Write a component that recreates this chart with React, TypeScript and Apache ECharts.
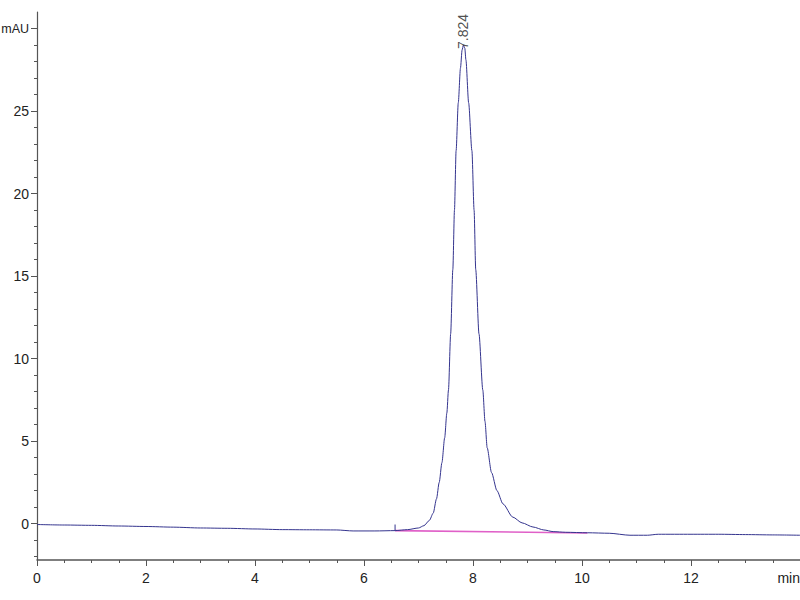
import React, { useEffect, useRef } from "react";
import * as echarts from "echarts";

// Chromatogram trace: retention time (min) and absorbance (mAU)
const traceTime = [
  0.0, 0.5, 1.0, 1.5, 2.0, 2.5, 3.0, 3.5, 4.0, 4.5, 5.0, 5.5, 5.8, 6.2, 6.57,
  6.8, 7.0, 7.1, 7.2, 7.27, 7.33, 7.38, 7.43, 7.48, 7.52, 7.55, 7.59, 7.63,
  7.66, 7.69, 7.73, 7.77, 7.8, 7.824, 7.85, 7.87, 7.92, 7.98, 8.02, 8.05,
  8.11, 8.18, 8.22, 8.26, 8.34, 8.44, 8.55, 8.73, 8.9, 9.1, 9.3, 9.47, 9.7,
  10.1, 10.5, 10.88, 11.2, 11.4, 12.0, 12.5, 13.0, 13.5, 14.0,
];
const traceValue = [
  -0.05, -0.08, -0.1, -0.14, -0.17, -0.21, -0.26, -0.28, -0.32, -0.36, -0.37,
  -0.38, -0.44, -0.44, -0.42, -0.36, -0.26, -0.12, 0.2, 0.64, 1.5, 2.5, 3.7,
  5.2, 6.7, 8.1, 11.5, 15.4, 19.0, 22.6, 25.5, 27.6, 28.7, 29.0, 28.8, 28.1,
  25.5, 22.6, 19.0, 15.4, 11.5, 8.1, 6.2, 4.6, 3.1, 2.0, 1.2, 0.4, 0.05,
  -0.2, -0.38, -0.48, -0.52, -0.55, -0.58, -0.7, -0.7, -0.64, -0.64, -0.64,
  -0.66, -0.68, -0.7,
];

// Integration baseline of the peak
const baselineTime = [6.57, 10.1];
const baselineValue = [-0.42, -0.56];

// Integration start marker
const markerTime = [6.57, 6.57];
const markerValue = [-0.42, -0.05];

// Peak annotation
const peakTime = 7.824;
const peakValue = 29.0;
const peakLabel = "7.824";

// Axis ticks and labels
const xMajorTicks = [0, 2, 4, 6, 8, 10, 12, 14];
const xMinorTicks = [
  0, 0.5, 1, 1.5, 2, 2.5, 3, 3.5, 4, 4.5, 5, 5.5, 6, 6.5, 7, 7.5, 8, 8.5, 9,
  9.5, 10, 10.5, 11, 11.5, 12, 12.5, 13, 13.5, 14,
];
const yMajorTicks = [0, 5, 10, 15, 20, 25, 30];
const yMinorTicks = [
  -2, -1, 0, 1, 2, 3, 4, 5, 6, 7, 8, 9, 10, 11, 12, 13, 14, 15, 16, 17, 18,
  19, 20, 21, 22, 23, 24, 25, 26, 27, 28, 29, 30,
];
const xUnit = "min";
const yUnit = "mAU";

const X_MIN = 0;
const X_MAX = 14;
const Y_MIN = -2.2;
const Y_MAX = 31;

const FONT = "'Liberation Sans', Arial, sans-serif";
const AXIS_COLOR = "#555";
const TEXT_COLOR = "#222";

export default function App() {
  const ref = useRef<HTMLDivElement>(null);

  useEffect(() => {
    if (!ref.current) return;
    const chart = echarts.init(ref.current, undefined, { renderer: "svg" });

    const zip = (a: number[], b: number[]) => a.map((v, i) => [v, b[i]]);

    chart.setOption({
      animation: false,
      backgroundColor: "#ffffff",
      grid: {
        left: 37,
        right: 0,
        top: 12,
        bottom: 40,
        containLabel: false,
        outerBoundsMode: "none",
      },
      xAxis: [
        {
          type: "value",
          min: X_MIN,
          max: X_MAX,
          position: "bottom",
          splitLine: { show: false },
          axisLine: { show: true, onZero: false, lineStyle: { color: AXIS_COLOR, width: 1.5 } },
          axisTick: { show: true, length: 6, customValues: xMajorTicks, lineStyle: { color: AXIS_COLOR } },
          axisLabel: {
            customValues: xMajorTicks,
            margin: 11,
            color: TEXT_COLOR,
            fontFamily: FONT,
            fontSize: 14,
            alignMaxLabel: "right",
            formatter: (v: number) => (v === X_MAX ? xUnit : String(v)),
          },
        },
        {
          type: "value",
          min: X_MIN,
          max: X_MAX,
          position: "bottom",
          splitLine: { show: false },
          axisLine: { show: false, onZero: false },
          axisTick: { show: true, length: 3, customValues: xMinorTicks, lineStyle: { color: AXIS_COLOR } },
          axisLabel: { show: false },
        },
      ],
      yAxis: [
        {
          type: "value",
          min: Y_MIN,
          max: Y_MAX,
          position: "left",
          splitLine: { show: false },
          axisLine: { show: true, onZero: false, lineStyle: { color: AXIS_COLOR, width: 1.2 } },
          axisTick: { show: true, length: 6, customValues: yMajorTicks, lineStyle: { color: AXIS_COLOR } },
          axisLabel: {
            customValues: yMajorTicks,
            margin: 8,
            color: TEXT_COLOR,
            fontFamily: FONT,
            fontSize: 14,
            formatter: (v: number) => (v === 30 ? "{u|" + yUnit + "}" : String(v)),
            rich: {
              u: { fontFamily: FONT, fontSize: 12.5, color: TEXT_COLOR },
            },
          },
        },
        {
          type: "value",
          min: Y_MIN,
          max: Y_MAX,
          position: "left",
          offset: 0,
          splitLine: { show: false },
          axisLine: { show: false, onZero: false },
          axisTick: { show: true, length: 3, customValues: yMinorTicks, lineStyle: { color: AXIS_COLOR } },
          axisLabel: { show: false },
        },
      ],
      series: [
        {
          type: "line",
          name: "baseline",
          data: zip(baselineTime, baselineValue),
          showSymbol: false,
          symbol: "none",
          lineStyle: { color: "#e060c8", width: 1.6 },
          z: 2,
        },
        {
          type: "line",
          name: "trace",
          data: zip(traceTime, traceValue),
          showSymbol: false,
          symbol: "none",
          smooth: 0.25,
          smoothMonotone: "x",
          lineStyle: { color: "#34348e", width: 1 },
          z: 3,
        },
        {
          type: "line",
          name: "marker",
          data: zip(markerTime, markerValue),
          showSymbol: false,
          symbol: "none",
          lineStyle: { color: "#34348e", width: 1 },
          z: 3,
        },
        {
          type: "scatter",
          name: "peak",
          data: [[peakTime, peakValue]],
          symbolSize: 0,
          label: {
            show: true,
            position: "top",
            distance: -4,
            rotate: 90,
            align: "left",
            verticalAlign: "middle",
            formatter: () => peakLabel,
            color: TEXT_COLOR,
            fontFamily: FONT,
            fontSize: 14,
          },
          z: 4,
        },
      ],
    });

    return () => chart.dispose();
  }, []);

  return (
    <div
      ref={ref}
      style={{ position: "fixed", left: 0, top: 0, width: 800, height: 600, background: "#fff" }}
    />
  );
}
